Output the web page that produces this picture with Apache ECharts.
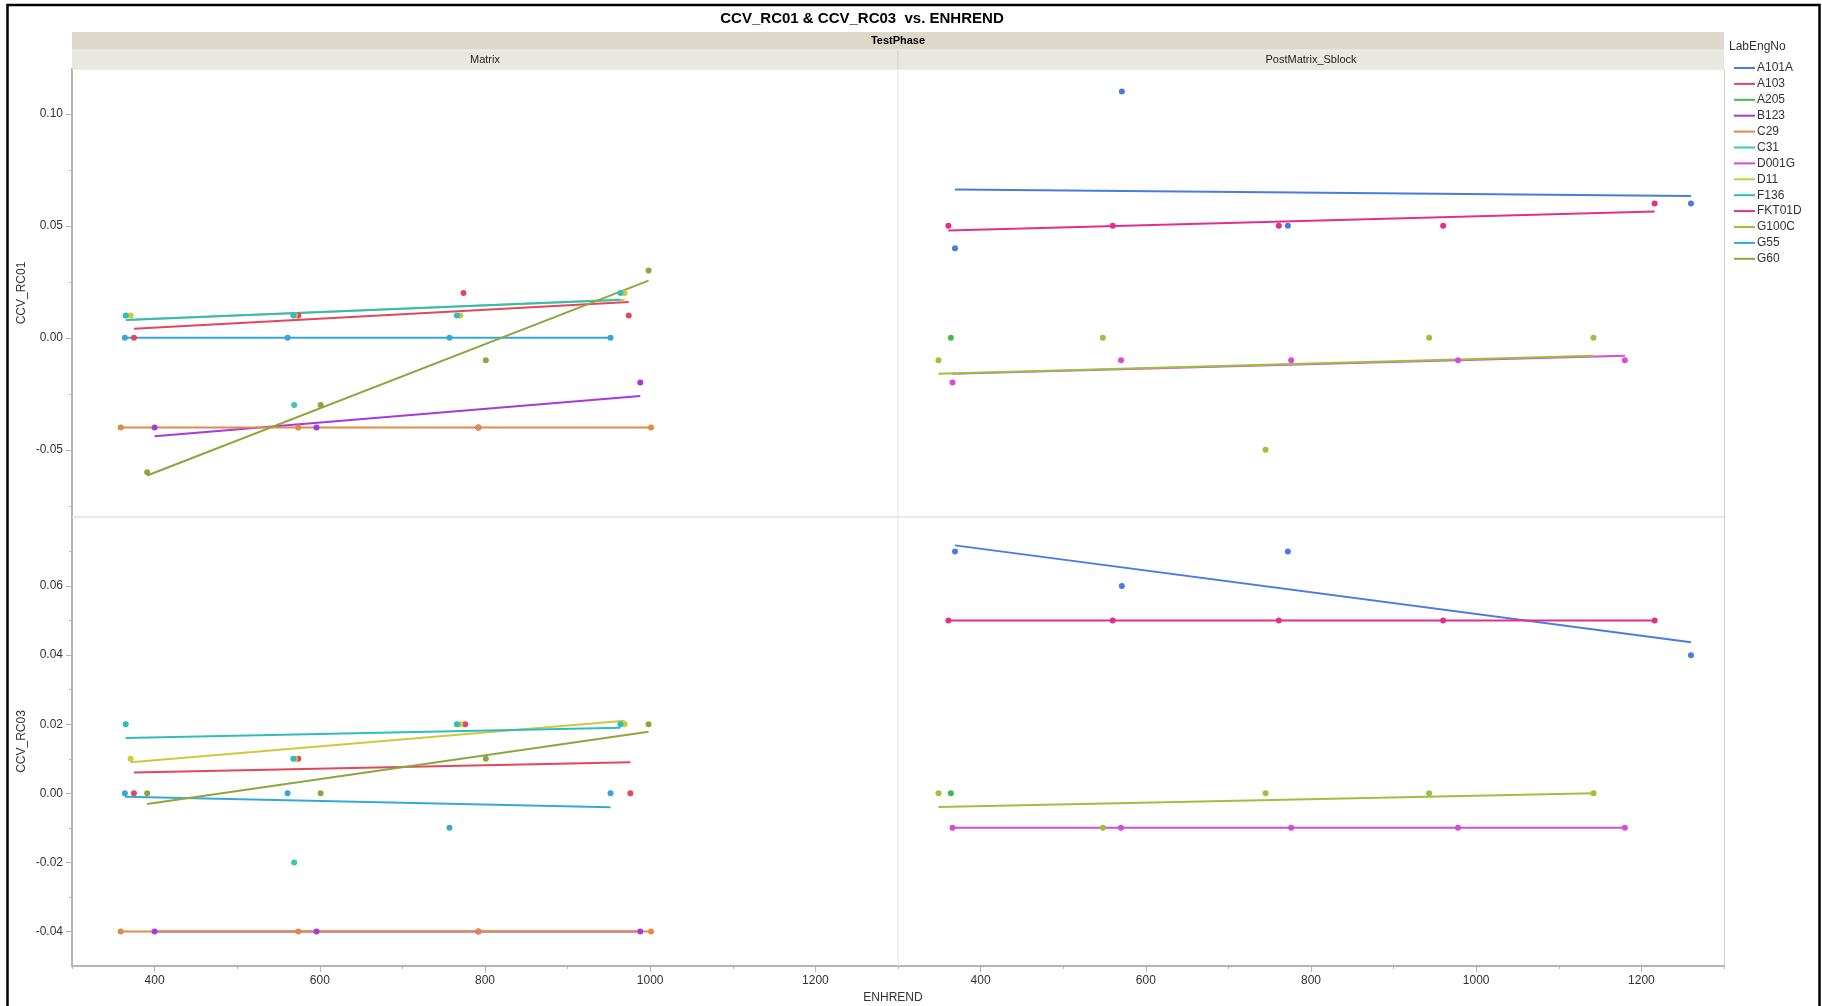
<!DOCTYPE html>
<html>
<head>
<meta charset="utf-8">
<script src="https://cdn.jsdelivr.net/npm/echarts@6/dist/echarts.min.js"></script>
<style>
html,body{margin:0;padding:0;background:#fff;}
#chart{width:1822px;height:1006px;}
</style>
</head>
<body>
<div id="chart"></div>
<script>
// ---- categories ----
const GROUPS = ['A101A','A103','A205','B123','C29','C31','D001G','D11','F136','FKT01D','G100C','G55','G60'];
const COLORS = ['#4a7be0','#e2475c','#3cbf4a','#a43ae0','#e08a45','#3ccaa6','#d84ad8','#cdc93a','#2fbdbd','#e0308c','#9cc23a','#36a8d8','#8fa640'];
const PHASES = ['Matrix','PostMatrix_Sblock'];
const RESPONSES = ['CCV_RC01','CCV_RC03'];

// ---- tick values ----
const X_LABEL_TICKS = [400,600,800,1000,1200];
const X_MINOR_TICKS = [300,500,700,900,1100,1300];
const Y01_LABEL_TICKS = [-0.05,0,0.05,0.10];
const Y01_MINOR_TICKS = [-0.075,-0.025,0.025,0.075];
const Y03_LABEL_TICKS = [-0.04,-0.02,0,0.02,0.04,0.06];
const Y03_MINOR_TICKS = [-0.03,-0.01,0.01,0.03,0.05,0.07];

// ---- CCV_RC01, Matrix : [ENHREND, value] ----
const rc01_mx_A103 = [[375,0.00],[574,0.01],[774,0.02],[974,0.01]];
const rc01_mx_B123 = [[400,-0.04],[596,-0.04],[792,-0.04],[988,-0.02]];
const rc01_mx_C29  = [[359,-0.04],[574,-0.04],[792,-0.04],[1001,-0.04]];
const rc01_mx_C31  = [[569,-0.03]];
const rc01_mx_D11  = [[371,0.01],[570,0.01],[770,0.01],[969,0.02]];
const rc01_mx_F136 = [[365,0.01],[568,0.01],[766,0.01],[964,0.02]];
const rc01_mx_G55  = [[364,0.00],[561,0.00],[757,0.00],[952,0.00]];
const rc01_mx_G60  = [[391,-0.06],[601,-0.03],[801,-0.01],[998,0.03]];

// ---- CCV_RC01, PostMatrix_Sblock ----
const rc01_pm_A101A  = [[369,0.04],[571,0.11],[772,0.05],[1260,0.06]];
const rc01_pm_A205   = [[364,0.00]];
const rc01_pm_D001G  = [[366,-0.02],[570,-0.01],[776,-0.01],[978,-0.01],[1180,-0.01]];
const rc01_pm_FKT01D = [[361,0.05],[560,0.05],[761,0.05],[960,0.05],[1216,0.06]];
const rc01_pm_G100C  = [[349,-0.01],[548,0.00],[745,-0.05],[943,0.00],[1142,0.00]];

// ---- CCV_RC03, Matrix ----
const rc03_mx_A103 = [[375,0.00],[574,0.01],[776,0.02],[976,0.00]];
const rc03_mx_B123 = [[400,-0.04],[596,-0.04],[792,-0.04],[988,-0.04]];
const rc03_mx_C29  = [[359,-0.04],[574,-0.04],[792,-0.04],[1001,-0.04]];
const rc03_mx_C31  = [[569,-0.02]];
const rc03_mx_D11  = [[371,0.01],[570,0.01],[770,0.02],[969,0.02]];
const rc03_mx_F136 = [[365,0.02],[568,0.01],[766,0.02],[964,0.02]];
const rc03_mx_G55  = [[364,0.00],[561,0.00],[757,-0.01],[952,0.00]];
const rc03_mx_G60  = [[391,0.00],[601,0.00],[801,0.01],[998,0.02]];

// ---- CCV_RC03, PostMatrix_Sblock ----
const rc03_pm_A101A  = [[369,0.07],[571,0.06],[772,0.07],[1260,0.04]];
const rc03_pm_A205   = [[364,0.00]];
const rc03_pm_D001G  = [[366,-0.01],[570,-0.01],[776,-0.01],[978,-0.01],[1180,-0.01]];
const rc03_pm_FKT01D = [[361,0.05],[560,0.05],[761,0.05],[960,0.05],[1216,0.05]];
const rc03_pm_G100C  = [[349,0.00],[548,-0.01],[745,0.00],[943,0.00],[1142,0.00]];

// panel -> group data
const PANEL_DATA = [
  {A103:rc01_mx_A103,B123:rc01_mx_B123,C29:rc01_mx_C29,C31:rc01_mx_C31,D11:rc01_mx_D11,F136:rc01_mx_F136,G55:rc01_mx_G55,G60:rc01_mx_G60},
  {A101A:rc01_pm_A101A,A205:rc01_pm_A205,D001G:rc01_pm_D001G,FKT01D:rc01_pm_FKT01D,G100C:rc01_pm_G100C},
  {A103:rc03_mx_A103,B123:rc03_mx_B123,C29:rc03_mx_C29,C31:rc03_mx_C31,D11:rc03_mx_D11,F136:rc03_mx_F136,G55:rc03_mx_G55,G60:rc03_mx_G60},
  {A101A:rc03_pm_A101A,A205:rc03_pm_A205,D001G:rc03_pm_D001G,FKT01D:rc03_pm_FKT01D,G100C:rc03_pm_G100C}
];

// least-squares fit line over the group's x range
function fitLine(pts){
  const n = pts.length;
  let mx=0,my=0; pts.forEach(p=>{mx+=p[0];my+=p[1];}); mx/=n; my/=n;
  let sxx=0,sxy=0; pts.forEach(p=>{sxx+=(p[0]-mx)*(p[0]-mx);sxy+=(p[0]-mx)*(p[1]-my);});
  const b = sxx>0 ? sxy/sxx : 0, a = my - b*mx;
  const xs = pts.map(p=>p[0]);
  const x0 = Math.min(...xs), x1 = Math.max(...xs);
  return [[x0,a+b*x0],[x1,a+b*x1]];
}

const FONT = 'Liberation Sans, Arial, sans-serif';
const AXIS_GRAY = '#b4b4b4';
const TXT = '#333';

const L = 72, MID = 898, R = 1724, TOP = 69, HMID = 517, BOT = 966;
const grids = [
  {left:L, top:TOP, width:MID-L, height:HMID-TOP},
  {left:MID, top:TOP, width:R-MID, height:HMID-TOP},
  {left:L, top:HMID, width:MID-L, height:BOT-HMID},
  {left:MID, top:HMID, width:R-MID, height:BOT-HMID}
];

function xAxisMajor(gi, showLabels){
  return {
    type:'value', gridIndex:gi, min:300, max:1300, interval:100, position:'bottom',
    axisLine:{show:showLabels, onZero:false, lineStyle:{color:AXIS_GRAY, width:2}},
    axisTick:{show:showLabels, customValues:X_LABEL_TICKS, length:6, lineStyle:{color:AXIS_GRAY}},
    axisLabel:{show:showLabels, customValues:X_LABEL_TICKS, margin:9, color:TXT, fontFamily:FONT, fontSize:12,
      formatter:v=> (Math.round(v)%200===0 && v>300 && v<1300) ? String(v) : ''},
    splitLine:{show:false}
  };
}
function xAxisMinor(gi){
  return {
    type:'value', gridIndex:gi, min:300, max:1300, interval:100, position:'bottom',
    axisLine:{show:false, onZero:false},
    axisTick:{show:true, customValues:X_MINOR_TICKS, length:3, lineStyle:{color:AXIS_GRAY}},
    axisLabel:{show:false}, splitLine:{show:false}
  };
}
function yAxisMajor(gi, min, max, labels, name, show){
  return {
    type:'value', gridIndex:gi, min:min, max:max, interval:0.01, position:'left',
    name: show ? name : '', nameLocation:'middle', nameGap:44, nameRotate:90,
    nameTextStyle:{color:TXT, fontFamily:FONT, fontSize:12},
    axisLine:{show:show, onZero:false, lineStyle:{color:AXIS_GRAY, width:2}},
    axisTick:{show:show, customValues:labels, length:6, lineStyle:{color:AXIS_GRAY}},
    axisLabel:{show:show, customValues:labels, margin:9, color:TXT, fontFamily:FONT, fontSize:12,
      formatter:v=> labels.some(t=>Math.abs(t-v)<1e-9) ? v.toFixed(2) : ''},
    splitLine:{show:false}
  };
}
function yAxisMinor(gi, min, max, minors){
  return {
    type:'value', gridIndex:gi, min:min, max:max, interval:0.01, position:'left',
    axisLine:{show:false, onZero:false},
    axisTick:{show:true, customValues:minors, length:3, lineStyle:{color:AXIS_GRAY}},
    axisLabel:{show:false}, splitLine:{show:false}
  };
}

const xAxes = [xAxisMajor(0,false), xAxisMajor(1,false), xAxisMajor(2,true), xAxisMajor(3,true), xAxisMinor(2), xAxisMinor(3)];
const yAxes = [
  yAxisMajor(0,-0.08,0.12,Y01_LABEL_TICKS,RESPONSES[0],true),
  yAxisMajor(1,-0.08,0.12,Y01_LABEL_TICKS,'',false),
  yAxisMajor(2,-0.05,0.08,Y03_LABEL_TICKS,RESPONSES[1],true),
  yAxisMajor(3,-0.05,0.08,Y03_LABEL_TICKS,'',false),
  yAxisMinor(0,-0.08,0.12,Y01_MINOR_TICKS),
  yAxisMinor(2,-0.05,0.08,Y03_MINOR_TICKS)
];

const series = [];
PANEL_DATA.forEach((pd, pi)=>{
  GROUPS.forEach((g, gi)=>{
    const pts = pd[g];
    if(!pts) return;
    const col = COLORS[gi];
    if(pts.length>1){
      series.push({name:g, type:'line', xAxisIndex:pi, yAxisIndex:pi, data:fitLine(pts),
        symbol:'none', showSymbol:false, lineStyle:{color:col, width:2}, itemStyle:{color:col},
        silent:true, z:2+gi*0.01});
    }
    series.push({name:g, type:'scatter', xAxisIndex:pi, yAxisIndex:pi, data:pts,
      symbol:'circle', symbolSize:6, itemStyle:{color:col, opacity:1}, silent:true, z:3+gi*0.01});
  });
});

const graphics = [
  // outer frame
  {type:'rect', shape:{x:7.5,y:5,width:1812,height:1012}, style:{fill:'none', stroke:'#000', lineWidth:2.5}, z:100},
  // title
  {type:'text', x:862, y:19, style:{text:'CCV_RC01 & CCV_RC03  vs. ENHREND', font:'bold 15px '+FONT, fill:'#000',
    align:'center', verticalAlign:'middle', textAlign:'center', textVerticalAlign:'middle'}, z:100},
  // header bands
  {type:'rect', shape:{x:L,y:32,width:R-L,height:18}, style:{fill:'#dcd9ca'}, z:0},
  {type:'rect', shape:{x:L,y:50,width:R-L,height:19}, style:{fill:'#e9e8e0'}, z:0},
  {type:'line', shape:{x1:L,y1:50,x2:R,y2:50}, style:{stroke:'#f4f3ee', lineWidth:1}, z:1},
  {type:'line', shape:{x1:MID,y1:50,x2:MID,y2:69}, style:{stroke:'#d0cfc6', lineWidth:1}, z:1},
  {type:'text', x:(L+R)/2, y:41, style:{text:'TestPhase', font:'bold 11px '+FONT, fill:'#000',
    align:'center', verticalAlign:'middle', textAlign:'center', textVerticalAlign:'middle'}, z:2},
  {type:'text', x:(L+MID)/2, y:59.5, style:{text:PHASES[0], font:'11px '+FONT, fill:'#222',
    align:'center', verticalAlign:'middle', textAlign:'center', textVerticalAlign:'middle'}, z:2},
  {type:'text', x:(MID+R)/2, y:59.5, style:{text:PHASES[1], font:'11px '+FONT, fill:'#222',
    align:'center', verticalAlign:'middle', textAlign:'center', textVerticalAlign:'middle'}, z:2},
  // panel dividers / borders
  {type:'line', shape:{x1:MID,y1:TOP,x2:MID,y2:BOT}, style:{stroke:'#e2e2e2', lineWidth:1}, z:1},
  {type:'line', shape:{x1:L,y1:HMID,x2:R,y2:HMID}, style:{stroke:'#e2e2e2', lineWidth:1.5}, z:1},
  {type:'line', shape:{x1:R+0.5,y1:TOP,x2:R+0.5,y2:BOT}, style:{stroke:'#cfcfcf', lineWidth:1}, z:1},
  {type:'line', shape:{x1:L,y1:TOP+0.5,x2:R,y2:TOP+0.5}, style:{stroke:'#ecebe4', lineWidth:1}, z:1},
  // x axis title
  {type:'text', x:893, y:998, style:{text:'ENHREND', font:'12px '+FONT, fill:TXT,
    align:'center', verticalAlign:'middle', textAlign:'center', textVerticalAlign:'middle'}, z:2},
  // legend title
  {type:'text', x:1729, y:47, style:{text:'LabEngNo', font:'12px '+FONT, fill:TXT,
    align:'left', verticalAlign:'middle', textAlign:'left', textVerticalAlign:'middle'}, z:2}
];

const chart = echarts.init(document.getElementById('chart'), null, {renderer:'canvas'});
chart.setOption({
  backgroundColor:'#fff',
  animation:false,
  grid:grids,
  xAxis:xAxes,
  yAxis:yAxes,
  legend:{
    data:GROUPS, orient:'vertical', left:1729, top:56, icon:'rect', itemWidth:21, itemHeight:2,
    itemGap:1.9, selectedMode:false,
    textStyle:{color:TXT, fontFamily:FONT, fontSize:12, lineHeight:14, padding:[0,0,0,-3]}
  },
  series:series,
  graphic:graphics
});
</script>
</body>
</html>
